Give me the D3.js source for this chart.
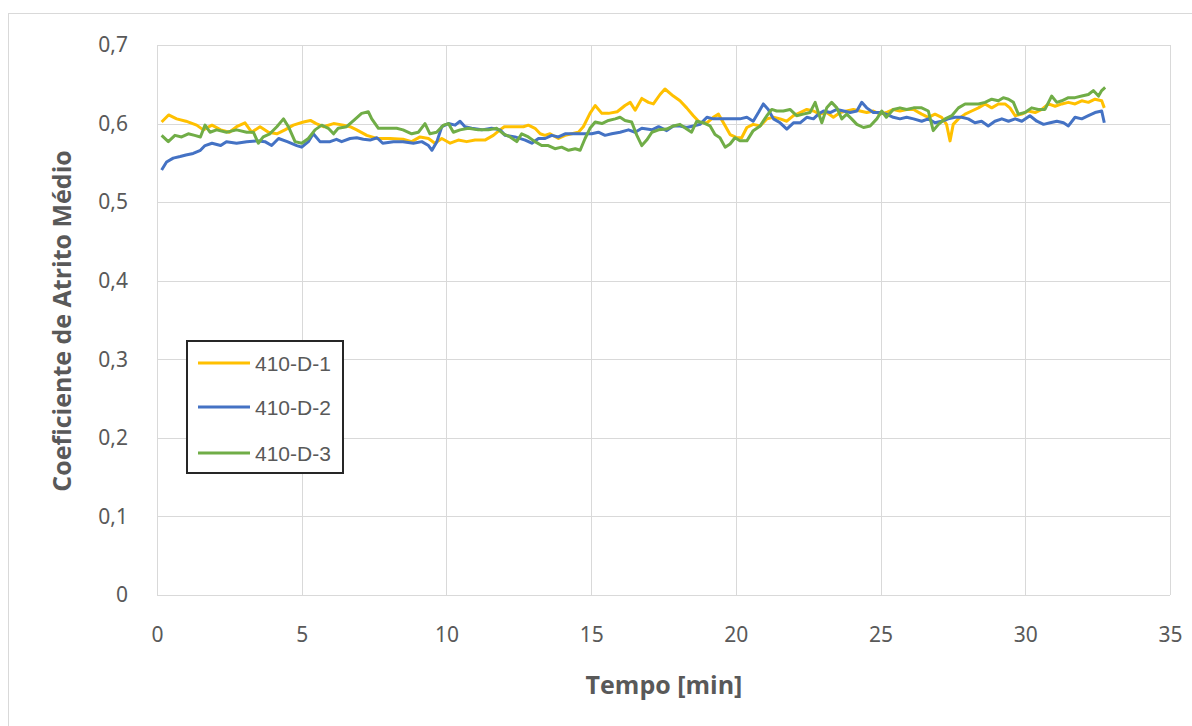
<!DOCTYPE html>
<html>
<head>
<meta charset="utf-8">
<script src="https://cdn.jsdelivr.net/npm/d3@7"></script>
<style>
  body { margin: 0; background: #fff; }
  #content { width: 1192px; height: 726px; }
</style>
</head>
<body>
<div id="content"></div>
<script>
var width = 1192;
var height = 726;

// series names and colours
var seriesNames = ["410-D-1", "410-D-2", "410-D-3"];
var seriesColors = ["#FFC000", "#4472C4", "#70AD47"];

var xTicks = [0, 5, 10, 15, 20, 25, 30, 35];
var yTicks = [0, 0.1, 0.2, 0.3, 0.4, 0.5, 0.6, 0.7];

// 410-D-1
var tempoD1 = [0.16,0.4,0.68,1.0,1.37,1.6,1.9,2.2,2.5,2.75,3.04,3.27,3.56,3.85,4.14,4.42,4.71,5.06,5.3,5.5,5.75,6.1,6.44,6.67,6.9,7.25,7.6,8.05,8.5,8.8,9.09,9.38,9.6,9.84,10.13,10.41,10.7,10.99,11.33,11.62,11.85,12.0,12.37,12.66,12.83,13.06,13.24,13.4,13.58,13.87,14.1,14.33,14.56,14.73,14.96,15.14,15.37,15.6,15.9,16.17,16.35,16.52,16.75,16.98,17.15,17.38,17.55,17.84,18.07,18.3,18.53,18.76,19.0,19.22,19.4,19.57,19.8,20.03,20.2,20.38,20.6,20.84,21.07,21.3,21.53,21.76,21.99,22.22,22.45,22.68,22.91,23.14,23.37,23.6,23.83,24.06,24.29,24.52,24.75,24.98,25.2,25.44,25.67,25.9,26.14,26.42,26.65,26.88,27.11,27.28,27.4,27.51,27.69,27.92,28.15,28.38,28.61,28.84,29.07,29.3,29.47,29.65,29.88,30.1,30.34,30.57,30.8,31.03,31.26,31.49,31.72,31.95,32.18,32.41,32.64,32.73];
var atritoD1 = [0.602,0.611,0.606,0.603,0.598,0.592,0.598,0.592,0.589,0.596,0.601,0.589,0.596,0.589,0.587,0.592,0.598,0.602,0.604,0.6,0.596,0.6,0.598,0.596,0.592,0.585,0.581,0.581,0.58,0.577,0.583,0.581,0.575,0.581,0.575,0.579,0.577,0.579,0.579,0.585,0.592,0.596,0.596,0.596,0.598,0.594,0.587,0.585,0.587,0.581,0.585,0.587,0.589,0.596,0.613,0.623,0.613,0.613,0.615,0.623,0.627,0.617,0.632,0.627,0.625,0.637,0.644,0.635,0.629,0.62,0.61,0.601,0.601,0.608,0.612,0.601,0.586,0.582,0.582,0.595,0.599,0.597,0.606,0.608,0.606,0.603,0.61,0.614,0.618,0.616,0.612,0.614,0.608,0.614,0.616,0.618,0.616,0.614,0.616,0.612,0.614,0.618,0.616,0.618,0.618,0.612,0.608,0.612,0.608,0.599,0.578,0.599,0.606,0.612,0.616,0.62,0.625,0.62,0.625,0.625,0.62,0.61,0.612,0.616,0.614,0.618,0.625,0.622,0.625,0.627,0.625,0.629,0.627,0.631,0.629,0.62];

// 410-D-2
var tempoD2 = [0.16,0.33,0.56,0.8,1.0,1.25,1.5,1.66,1.9,2.2,2.4,2.75,3.1,3.44,3.73,3.96,4.2,4.5,4.83,5.0,5.23,5.4,5.63,5.98,6.2,6.38,6.67,6.9,7.13,7.36,7.6,7.8,8.17,8.5,8.86,9.15,9.38,9.5,9.67,9.84,10.07,10.3,10.47,10.64,10.87,11.22,11.56,11.85,12.03,12.37,12.72,12.95,13.18,13.41,13.64,13.87,14.1,14.45,14.79,15.02,15.25,15.48,15.71,16.0,16.29,16.52,16.75,17.1,17.33,17.61,17.84,18.07,18.3,18.53,18.76,19.0,19.22,19.45,19.68,19.91,20.14,20.38,20.6,20.78,20.95,21.12,21.3,21.53,21.76,21.99,22.22,22.45,22.68,22.85,23.03,23.26,23.49,23.72,23.95,24.18,24.35,24.52,24.75,24.98,25.2,25.44,25.67,25.9,26.14,26.42,26.65,26.88,27.11,27.34,27.57,27.8,28.03,28.26,28.49,28.72,28.95,29.19,29.42,29.65,29.88,30.16,30.4,30.63,30.86,31.09,31.32,31.49,31.72,31.95,32.18,32.41,32.64,32.73];
var atritoD2 = [0.541,0.551,0.556,0.558,0.56,0.562,0.566,0.572,0.575,0.572,0.577,0.575,0.577,0.578,0.577,0.572,0.581,0.577,0.572,0.57,0.577,0.587,0.577,0.577,0.58,0.577,0.581,0.582,0.58,0.579,0.582,0.575,0.577,0.577,0.575,0.577,0.572,0.566,0.577,0.596,0.6,0.598,0.603,0.596,0.594,0.592,0.594,0.592,0.585,0.583,0.579,0.575,0.581,0.581,0.585,0.583,0.587,0.587,0.587,0.587,0.589,0.585,0.587,0.589,0.592,0.589,0.594,0.592,0.596,0.591,0.597,0.597,0.595,0.597,0.599,0.608,0.606,0.606,0.606,0.606,0.606,0.608,0.603,0.614,0.625,0.618,0.606,0.601,0.593,0.601,0.601,0.608,0.606,0.612,0.616,0.614,0.618,0.616,0.614,0.616,0.627,0.62,0.614,0.614,0.612,0.608,0.606,0.608,0.606,0.603,0.606,0.601,0.603,0.606,0.608,0.608,0.606,0.601,0.603,0.597,0.603,0.606,0.603,0.606,0.603,0.61,0.603,0.599,0.601,0.603,0.601,0.597,0.608,0.606,0.61,0.614,0.616,0.601];

// 410-D-3
var tempoD3 = [0.16,0.39,0.62,0.85,1.08,1.3,1.5,1.66,1.83,2.06,2.4,2.75,3.1,3.33,3.5,3.67,3.9,4.14,4.37,4.54,4.77,5.0,5.23,5.46,5.69,5.92,6.1,6.26,6.55,6.8,7.07,7.3,7.42,7.65,7.94,8.28,8.5,8.8,9.03,9.26,9.43,9.66,9.9,10.07,10.24,10.47,10.76,11.1,11.45,11.74,11.97,12.2,12.43,12.6,12.83,13.06,13.29,13.52,13.75,13.98,14.22,14.45,14.62,14.79,14.96,15.14,15.37,15.6,15.83,16.0,16.17,16.4,16.58,16.75,16.92,17.1,17.33,17.61,17.84,18.07,18.3,18.47,18.65,18.88,19.11,19.28,19.45,19.63,19.8,19.97,20.14,20.38,20.6,20.84,21.07,21.24,21.41,21.64,21.87,22.1,22.33,22.56,22.74,22.85,22.97,23.14,23.31,23.49,23.66,23.83,24.0,24.18,24.41,24.64,24.87,25.04,25.2,25.44,25.67,25.9,26.14,26.42,26.65,26.82,27.0,27.23,27.46,27.69,27.92,28.15,28.38,28.61,28.84,29.07,29.24,29.42,29.59,29.76,29.99,30.22,30.45,30.68,30.91,31.09,31.26,31.49,31.72,31.95,32.18,32.35,32.53,32.64,32.76];
var atritoD3 = [0.585,0.577,0.585,0.583,0.587,0.585,0.583,0.598,0.589,0.592,0.589,0.592,0.589,0.589,0.575,0.583,0.587,0.596,0.606,0.596,0.577,0.575,0.581,0.592,0.598,0.594,0.587,0.594,0.596,0.604,0.613,0.615,0.606,0.594,0.594,0.594,0.592,0.587,0.589,0.6,0.587,0.589,0.598,0.6,0.589,0.592,0.594,0.592,0.592,0.594,0.587,0.583,0.577,0.587,0.583,0.577,0.572,0.572,0.568,0.57,0.566,0.568,0.566,0.581,0.594,0.602,0.6,0.604,0.606,0.608,0.604,0.602,0.585,0.572,0.579,0.589,0.592,0.593,0.597,0.599,0.593,0.589,0.603,0.601,0.597,0.586,0.582,0.57,0.574,0.582,0.578,0.578,0.591,0.597,0.61,0.618,0.616,0.616,0.618,0.61,0.612,0.614,0.627,0.614,0.601,0.62,0.627,0.62,0.606,0.612,0.606,0.599,0.595,0.597,0.606,0.616,0.608,0.618,0.62,0.618,0.62,0.62,0.616,0.591,0.599,0.606,0.61,0.62,0.625,0.625,0.625,0.627,0.631,0.629,0.633,0.631,0.627,0.612,0.614,0.62,0.618,0.618,0.635,0.627,0.629,0.633,0.633,0.635,0.637,0.642,0.635,0.642,0.646];

var tempos = [tempoD1, tempoD2, tempoD3];
var atritos = [atritoD1, atritoD2, atritoD3];

var margin = { top: 45, right: 22, bottom: 131, left: 157 };
var plotW = width - margin.left - margin.right;
var plotH = height - margin.top - margin.bottom;

var svg = d3.select("#content").append("svg").attr("width", width).attr("height", height);

// outer chart border
svg.append("rect")
    .attr("x", 8.5).attr("y", 13.5)
    .attr("width", width).attr("height", height)
    .attr("fill", "#fff").attr("stroke", "#d9d9d9");

var xScale = d3.scaleLinear().domain([0, 35]).range([0, plotW]);
var yScale = d3.scaleLinear().domain([0, 0.7]).range([plotH, 0]);

var g = svg.append("g").attr("transform", `translate(${margin.left}, ${margin.top})`);

var fmtY = function (d) { return d === 0 ? "0" : d3.format(".1f")(d).replace(".", ","); };

// gridlines
g.append("g")
    .selectAll("line.hgrid")
    .data(yTicks)
    .enter()
    .append("line")
    .attr("x1", 0).attr("x2", plotW)
    .attr("y1", d => Math.round(yScale(d)) + 0.5)
    .attr("y2", d => Math.round(yScale(d)) + 0.5)
    .attr("stroke", "#d9d9d9");

g.append("g")
    .selectAll("line.vgrid")
    .data(xTicks)
    .enter()
    .append("line")
    .attr("y1", 0).attr("y2", plotH)
    .attr("x1", d => Math.round(xScale(d)) + 0.5)
    .attr("x2", d => Math.round(xScale(d)) + 0.5)
    .attr("stroke", "#d9d9d9");

// axes (labels only)
var yAxis = g.append("g")
    .call(d3.axisLeft(yScale).tickValues(yTicks).tickSize(0).tickPadding(29).tickFormat(fmtY));
var xAxis = g.append("g")
    .attr("transform", `translate(0, ${plotH})`)
    .call(d3.axisBottom(xScale).tickValues(xTicks).tickSize(0).tickPadding(32).tickFormat(d3.format("d")));

[yAxis, xAxis].forEach(function (a) {
    a.select(".domain").remove();
    a.selectAll("text")
        .attr("fill", "#595959")
        .style("font-family", "'Segoe UI', 'Noto Sans', sans-serif")
        .style("font-size", "21px");
});

// series lines
var line = d3.line()
    .x(d => xScale(d[0]))
    .y(d => yScale(d[1]));

seriesNames.forEach(function (name, i) {
    var pts = tempos[i].map((t, j) => [t, atritos[i][j]]);
    g.append("path")
        .datum(pts)
        .attr("fill", "none")
        .attr("stroke", seriesColors[i])
        .attr("stroke-width", 3)
        .attr("stroke-linejoin", "round")
        .attr("d", line);
});

// axis titles
svg.append("text")
    .attr("transform", "translate(71, 321) rotate(-90)")
    .style("text-anchor", "middle")
    .style("font-family", "'Segoe UI', 'Open Sans', sans-serif")
    .style("font-weight", "bold")
    .style("font-size", "25px")
    .attr("fill", "#595959")
    .text("Coeficiente de Atrito Médio");

svg.append("text")
    .attr("x", 664)
    .attr("y", 694)
    .style("text-anchor", "middle")
    .style("font-family", "'Segoe UI', 'Open Sans', sans-serif")
    .style("font-weight", "bold")
    .style("font-size", "25px")
    .attr("fill", "#595959")
    .text("Tempo [min]");

// legend
var legend = svg.append("g").attr("transform", "translate(187, 341)");

legend.append("rect")
    .attr("width", 156).attr("height", 132)
    .attr("fill", "#fff")
    .attr("stroke", "#262626")
    .attr("stroke-width", 2);

var legendRows = [22, 66, 112];

legend.selectAll(".legend-line")
    .data(seriesNames)
    .enter()
    .append("line")
    .attr("x1", 11).attr("x2", 63)
    .attr("y1", (d, i) => legendRows[i])
    .attr("y2", (d, i) => legendRows[i])
    .attr("stroke", (d, i) => seriesColors[i])
    .attr("stroke-width", 3);

legend.selectAll(".legend-text")
    .data(seriesNames)
    .enter()
    .append("text")
    .attr("x", 68)
    .attr("y", (d, i) => legendRows[i])
    .attr("dy", "0.36em")
    .style("font-family", "'Liberation Sans Narrow', 'Liberation Sans', sans-serif")
    .style("font-size", "21px")
    .attr("fill", "#595959")
    .text(d => d);
</script>
</body>
</html>
